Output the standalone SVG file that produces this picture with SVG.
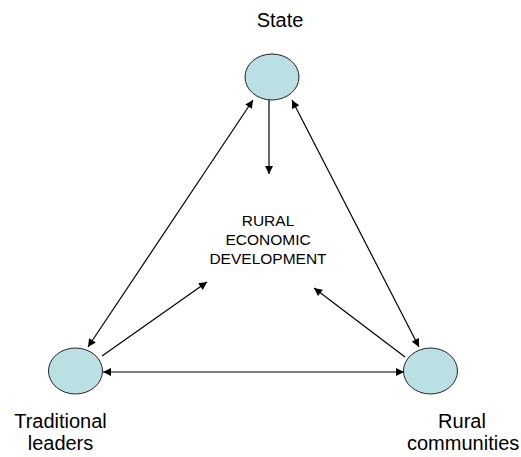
<svg xmlns="http://www.w3.org/2000/svg" width="521" height="457" viewBox="0 0 521 457">
<defs>
<style>
.node{fill:#bbe0e3;stroke:#222;stroke-width:1}
.lbl{font-family:"Liberation Sans",Arial,sans-serif;font-size:20px;fill:#000}
.ctr{font-family:"Liberation Sans",Arial,sans-serif;font-size:15.5px;fill:#000;text-anchor:middle}
.con{stroke:#000;stroke-width:1.2;fill:none}
</style>
<marker id="ah" viewBox="0 0 10 10" refX="10" refY="5" markerWidth="9" markerHeight="8" markerUnits="userSpaceOnUse" orient="auto-start-reverse">
<path d="M0,0 L10,5 L0,10 z" fill="#000"/>
</marker>
</defs>
<rect width="521" height="457" fill="#fff"/>
<g id="connectors">
<line class="con" x1="269" y1="100" x2="269" y2="174" marker-end="url(#ah)"/>
<line class="con" x1="253" y1="100" x2="88" y2="347" marker-start="url(#ah)" marker-end="url(#ah)"/>
<line class="con" x1="292" y1="100" x2="419" y2="347" marker-start="url(#ah)" marker-end="url(#ah)"/>
<line class="con" x1="103" y1="372" x2="404" y2="372" marker-start="url(#ah)" marker-end="url(#ah)"/>
<line class="con" x1="102" y1="356" x2="207" y2="282" marker-end="url(#ah)"/>
<line class="con" x1="405" y1="357" x2="314" y2="288" marker-end="url(#ah)"/>
</g>
<g id="state">
<ellipse class="node" cx="272" cy="77" rx="27" ry="23"/>
<text class="lbl" x="280" y="27" text-anchor="middle">State</text>
</g>
<g id="traditional-leaders">
<ellipse class="node" cx="75.5" cy="371" rx="27" ry="23"/>
<text class="lbl" x="60.5" y="428" text-anchor="middle">Traditional</text>
<text class="lbl" x="60.5" y="450" text-anchor="middle">leaders</text>
</g>
<g id="rural-communities">
<ellipse class="node" cx="430.5" cy="371" rx="27" ry="23"/>
<text class="lbl" x="462" y="428" text-anchor="middle">Rural</text>
<text class="lbl" x="407" y="450">communities</text>
</g>
<g id="center">
<text class="ctr" x="268" y="226">RURAL</text>
<text class="ctr" x="268" y="245">ECONOMIC</text>
<text class="ctr" x="268" y="264">DEVELOPMENT</text>
</g>
</svg>
